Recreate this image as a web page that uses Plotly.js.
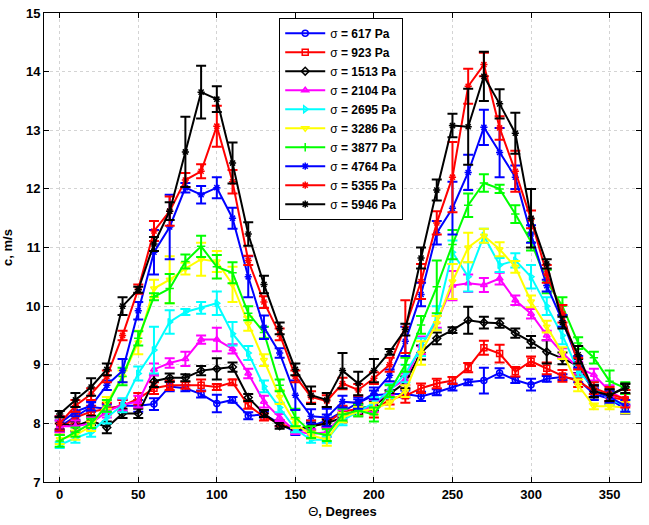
<!DOCTYPE html>
<html>
<head>
<meta charset="utf-8">
<script src="https://cdn.plot.ly/plotly-3.0.1.min.js"></script>
<style>html,body{margin:0;padding:0;background:#fff;}#chart{width:649px;height:525px;}</style>
</head>
<body>
<div id="chart"></div>
<script>
const theta = [0,10,20,30,40,50,60,70,80,90,100,110,120,130,140,150,160,170,180,190,200,210,220,230,240,250,260,270,280,290,300,310,320,330,340,350,360];

const seriesNames = ["617","923","1513","2104","2695","3286","3877","4764","5355","5946"];

const s617  = [7.95,8.12,8.28,8.25,8.3,8.3,8.33,8.63,8.6,8.5,8.34,8.4,8.13,8.15,8.0,7.85,7.95,8.05,8.2,8.35,8.48,8.5,8.5,8.46,8.53,8.62,8.7,8.73,8.86,8.74,8.66,8.76,8.79,8.75,8.5,8.42,8.24];
const s923  = [7.9,8.1,8.2,8.25,8.3,8.42,8.6,8.65,8.65,8.65,8.62,8.7,8.31,8.11,8.0,7.9,7.95,8.0,8.2,8.25,8.2,8.42,8.47,8.6,8.68,8.73,8.95,9.29,9.19,8.88,9.06,8.94,8.81,8.72,8.55,8.45,8.4];
const s1513 = [8.0,7.95,8.05,7.93,8.17,8.17,8.72,8.78,8.78,8.9,8.93,8.96,8.44,8.17,7.96,7.9,7.95,8.0,8.1,8.25,8.3,8.5,8.7,9.21,9.45,9.59,9.76,9.72,9.71,9.54,9.39,9.22,9.11,8.98,8.54,8.48,8.62];
const s2104 = [7.95,7.95,8.0,8.2,8.32,8.37,8.92,9.03,9.1,9.43,9.43,9.27,8.85,8.37,8.1,7.87,7.82,7.85,8.15,8.2,8.3,8.58,8.75,9.33,9.73,10.35,10.39,10.36,10.47,10.1,9.87,9.5,9.2,8.95,8.83,8.55,8.4];
const s2695 = [7.63,7.75,7.85,8.1,8.31,8.85,9.25,9.73,9.9,9.97,10.05,9.53,9.2,8.63,8.27,7.9,7.72,7.72,8.05,8.2,8.35,8.55,8.85,9.3,9.8,10.92,10.5,11.2,10.7,10.78,10.5,10.0,9.5,8.9,8.6,8.42,8.3];
const s3286 = [7.73,7.8,7.95,8.35,8.8,9.38,10.3,10.45,10.64,10.8,10.76,10.37,9.7,9.08,8.45,8.0,7.8,7.72,8.1,8.2,8.25,8.35,8.55,9.2,9.71,10.42,11.0,11.2,10.97,10.67,10.08,9.65,9.2,8.65,8.29,8.29,8.27];
const s3877 = [7.7,7.85,8.0,8.3,8.8,9.45,10.16,10.3,10.76,11.02,10.67,10.57,9.88,9.55,8.65,8.1,7.85,7.8,8.15,8.22,8.15,8.55,9.0,9.68,10.33,11.05,11.72,12.1,12.0,11.57,11.1,10.42,10.0,9.37,9.12,8.72,8.6];
const s4764 = [8.0,8.2,8.3,8.65,8.9,9.92,10.92,11.35,12.02,11.9,12.02,11.5,10.5,9.64,9.2,8.48,8.12,8.1,8.37,8.35,8.51,8.82,9.4,10.2,11.25,11.67,12.28,13.05,12.62,12.2,11.23,10.35,9.75,9.05,8.55,8.45,8.3];
const s5355 = [8.0,8.3,8.5,8.8,9.5,10.29,11.28,11.62,12.15,12.3,13.07,12.12,10.78,10.07,9.52,8.8,8.45,8.38,8.68,8.57,8.77,9.0,9.65,10.42,11.42,12.2,13.75,14.12,13.04,12.3,11.48,10.55,9.87,9.02,8.6,8.5,8.42];
const s5946 = [8.16,8.4,8.62,8.92,10.0,10.28,11.06,11.62,12.63,13.65,13.53,12.44,11.23,10.37,9.62,8.92,8.48,8.4,8.9,8.68,8.9,9.22,9.6,10.82,11.98,13.08,13.06,13.92,13.45,12.95,11.5,10.72,9.72,9.17,8.55,8.48,8.6];

const e617  = [0.1,0.06,0.08,0.08,0.1,0.1,0.1,0.08,0.05,0.06,0.15,0.05,0.06,0.05,0.05,0.05,0.1,0.1,0.08,0.06,0.08,0.06,0.06,0.08,0.05,0.06,0.05,0.22,0.08,0.05,0.1,0.05,0.05,0.05,0.1,0.1,0.08];
const e923  = [0.1,0.1,0.1,0.1,0.1,0.1,0.1,0.08,0.06,0.1,0.05,0.05,0.06,0.06,0.05,0.05,0.1,0.08,0.1,0.1,0.1,0.1,0.12,0.08,0.08,0.06,0.08,0.12,0.15,0.08,0.08,0.1,0.1,0.1,0.1,0.1,0.1];
const e1513 = [0.1,0.08,0.08,0.1,0.08,0.08,0.1,0.07,0.06,0.08,0.18,0.08,0.06,0.06,0.05,0.05,0.06,0.06,0.08,0.08,0.08,0.06,0.1,0.12,0.1,0.05,0.23,0.1,0.08,0.08,0.1,0.2,0.1,0.12,0.1,0.1,0.05];
const e2104 = [0.1,0.1,0.1,0.1,0.1,0.1,0.1,0.08,0.12,0.07,0.2,0.08,0.08,0.1,0.06,0.05,0.08,0.08,0.08,0.08,0.1,0.1,0.1,0.15,0.1,0.25,0.15,0.12,0.1,0.08,0.08,0.08,0.08,0.1,0.1,0.1,0.1];
const e2695 = [0.05,0.08,0.08,0.1,0.12,0.12,0.4,0.2,0.05,0.1,0.2,0.2,0.12,0.1,0.08,0.05,0.05,0.05,0.08,0.08,0.1,0.12,0.15,0.15,0.2,0.2,0.25,0.12,0.12,0.12,0.2,0.15,0.15,0.1,0.1,0.1,0.1];
const e3286 = [0.08,0.08,0.08,0.1,0.1,0.2,0.15,0.4,0.1,0.28,0.18,0.3,0.12,0.1,0.12,0.08,0.06,0.1,0.08,0.08,0.1,0.1,0.1,0.2,0.12,0.3,0.25,0.12,0.12,0.1,0.1,0.1,0.1,0.1,0.05,0.05,0.1];
const e3877 = [0.1,0.08,0.08,0.1,0.15,0.12,0.06,0.25,0.12,0.18,0.2,0.18,0.12,0.1,0.1,0.15,0.1,0.1,0.1,0.1,0.12,0.1,0.12,0.15,0.45,0.25,0.2,0.15,0.07,0.15,0.15,0.2,0.15,0.1,0.1,0.18,0.1];
const e4764 = [0.12,0.08,0.08,0.08,0.2,0.15,0.38,0.55,0.08,0.15,0.18,0.18,0.35,0.2,0.08,0.25,0.12,0.15,0.1,0.1,0.1,0.1,0.25,0.2,0.2,0.45,0.3,0.3,0.42,0.2,0.15,0.1,0.1,0.1,0.1,0.1,0.1];
const e5355 = [0.12,0.1,0.1,0.1,0.08,0.08,0.17,0.25,0.12,0.12,0.35,0.2,0.08,0.1,0.1,0.1,0.1,0.1,0.1,0.1,0.1,0.12,0.45,0.3,0.2,0.6,0.3,0.2,0.2,0.35,0.15,0.15,0.15,0.1,0.1,0.12,0.15];
const e5946 = [0.05,0.12,0.15,0.1,0.15,0.05,0.12,0.15,0.6,0.45,0.22,0.35,0.2,0.15,0.1,0.1,0.15,0.12,0.3,0.2,0.2,0.05,0.1,0.18,0.18,0.2,0.65,0.42,0.25,0.35,0.5,0.08,0.1,0.15,0.1,0.1,0.08];

const values = [s617,s923,s1513,s2104,s2695,s3286,s3877,s4764,s5355,s5946];
const errors = [e617,e923,e1513,e2104,e2695,e3286,e3877,e4764,e5355,e5946];
const colors = ["#0000ff","#ff0000","#000000","#ff00ff","#00ffff","#ffff00","#00ff00","#0000ff","#ff0000","#000000"];
const symbols = ["circle-open","square-open","diamond-open","triangle-up-open","triangle-right-open","triangle-down-open","cross-thin-open","asterisk-open","asterisk-open","asterisk-open"];

const traces = seriesNames.map((n, i) => ({
  type: "scatter",
  mode: "lines+markers",
  x: theta,
  y: values[i],
  name: "σ <b>= " + n + " Pa</b>",
  line: {color: colors[i], width: 2},
  marker: {symbol: symbols[i], size: 6, color: colors[i], line: {color: colors[i], width: 1.5}},
  error_y: {type: "data", array: errors[i], visible: true, color: colors[i], thickness: 2, width: 5}
}));

const layout = {
  width: 649, height: 525,
  margin: {l: 44, r: 8, t: 13, b: 43},
  paper_bgcolor: "#ffffff",
  plot_bgcolor: "#ffffff",
  font: {family: "Arial, Liberation Sans, sans-serif", color: "#000", size: 13},
  showlegend: true,
  legend: {
    x: 0.394, y: 0.99, xanchor: "left", yanchor: "top",
    bgcolor: "#ffffff", bordercolor: "#000", borderwidth: 1,
    font: {size: 12, family: "Arial, Liberation Sans, sans-serif"},
    tracegroupgap: 0, itemwidth: 40
  },
  xaxis: {
    range: [-10, 370], dtick: 50, tick0: 0,
    showline: true, mirror: "ticks", linecolor: "#000", linewidth: 1,
    ticks: "inside", ticklen: 5, tickcolor: "#000",
    showgrid: true, gridcolor: "#d4d4d4", griddash: "dot", gridwidth: 1,
    zeroline: false,
    tickfont: {size: 13, weight: "bold"},
    title: {text: "Θ<b>, Degrees</b>", font: {size: 13}, standoff: 6}
  },
  yaxis: {
    range: [7, 15], dtick: 1,
    showline: true, mirror: "ticks", linecolor: "#000", linewidth: 1,
    ticks: "inside", ticklen: 5, tickcolor: "#000",
    showgrid: true, gridcolor: "#d4d4d4", griddash: "dot", gridwidth: 1,
    zeroline: false,
    tickfont: {size: 13, weight: "bold"},
    title: {text: "<b>c, m/s</b>", font: {size: 13}, standoff: 10}
  }
};

Plotly.newPlot("chart", traces, layout, {displayModeBar: false, staticPlot: true});
</script>
</body>
</html>
